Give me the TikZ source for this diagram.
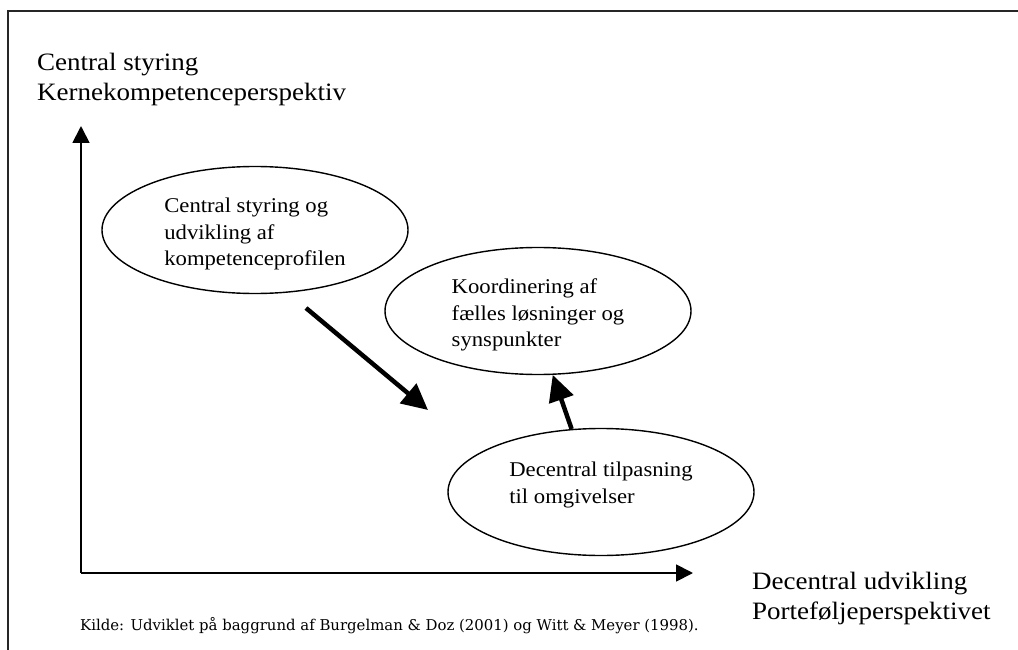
\documentclass[tikz,border=0pt]{standalone}
\usepackage{fontspec}
\setmainfont{Liberation Serif}[FakeStretch=1.08]
\newfontfamily\kildefont{DejaVu Serif}
\usepackage{tikz}
\usetikzlibrary{arrows.meta,positioning,shapes.geometric}
\tikzset{
    %Define standard arrow tip
    >={Triangle[length=17pt,width=17pt]},
    %Define style for ellipses
    felt/.style={
           ellipse,
           draw=black, line width=1.4pt,
           minimum width=306pt,
           minimum height=127pt,
           inner sep=0pt,
           align=left,
           font=\fontsize{21}{26.5}\selectfont},
    %Define style for axis labels
    aksetekst/.style={
           anchor=north west,
           inner sep=0pt,
           align=left,
           font=\fontsize{25}{30}\selectfont},
    % Define arrow styles
    akse/.style={->, line width=1.8pt},
    pil/.style={
           -{Triangle[length=26pt,width=25pt]},
           line width=4.5pt},
    ramme/.style={line width=1.8pt, draw=black!85}
}
\begin{document}
\begin{tikzpicture}[x=1pt,y=-1pt]
\useasboundingbox (0,0) rectangle (1018,650);
\draw[ramme] (8.3,650) -- (8.3,10.7) -- (1018,10.7);
 %axes
\coordinate (o) at (81,573);
\coordinate (ytop) at (81,126);
\coordinate (xend) at (693,573);
\draw[akse] (o) -- (ytop);
\draw[akse] (o) -- (xend);
\node[aksetekst](ylab) at (37,53){Central styring\\Kernekompetenceperspektiv};
\node[aksetekst](xlab) at (752,572){Decentral udvikling\\Porteføljeperspektivet};
 %nodes
\node[felt](e1) at (255,230){\rule{0pt}{23pt}Central styring og\\udvikling af\\kompetenceprofilen};
\node[felt](e2) at (538,311){\rule{0pt}{23pt}Koordinering af\\fælles løsninger og\\synspunkter};
\node[felt](e3) at (601,492){Decentral tilpasning\\til omgivelser\rule[-19pt]{0pt}{0pt}};
\coordinate (s1) at (306,308);
\coordinate (t1) at (428,410);
\draw[pil] (s1) -- (t1);
\draw[pil] (e3.115) -- (e2.283);
\node[anchor=base west, inner sep=0pt, font=\kildefont\fontsize{14.9}{17}\selectfont](kilde) at (80,630){Kilde: Udviklet på baggrund af Burgelman \& Doz (2001) og Witt \& Meyer (1998).};
\end{tikzpicture}
\end{document}
